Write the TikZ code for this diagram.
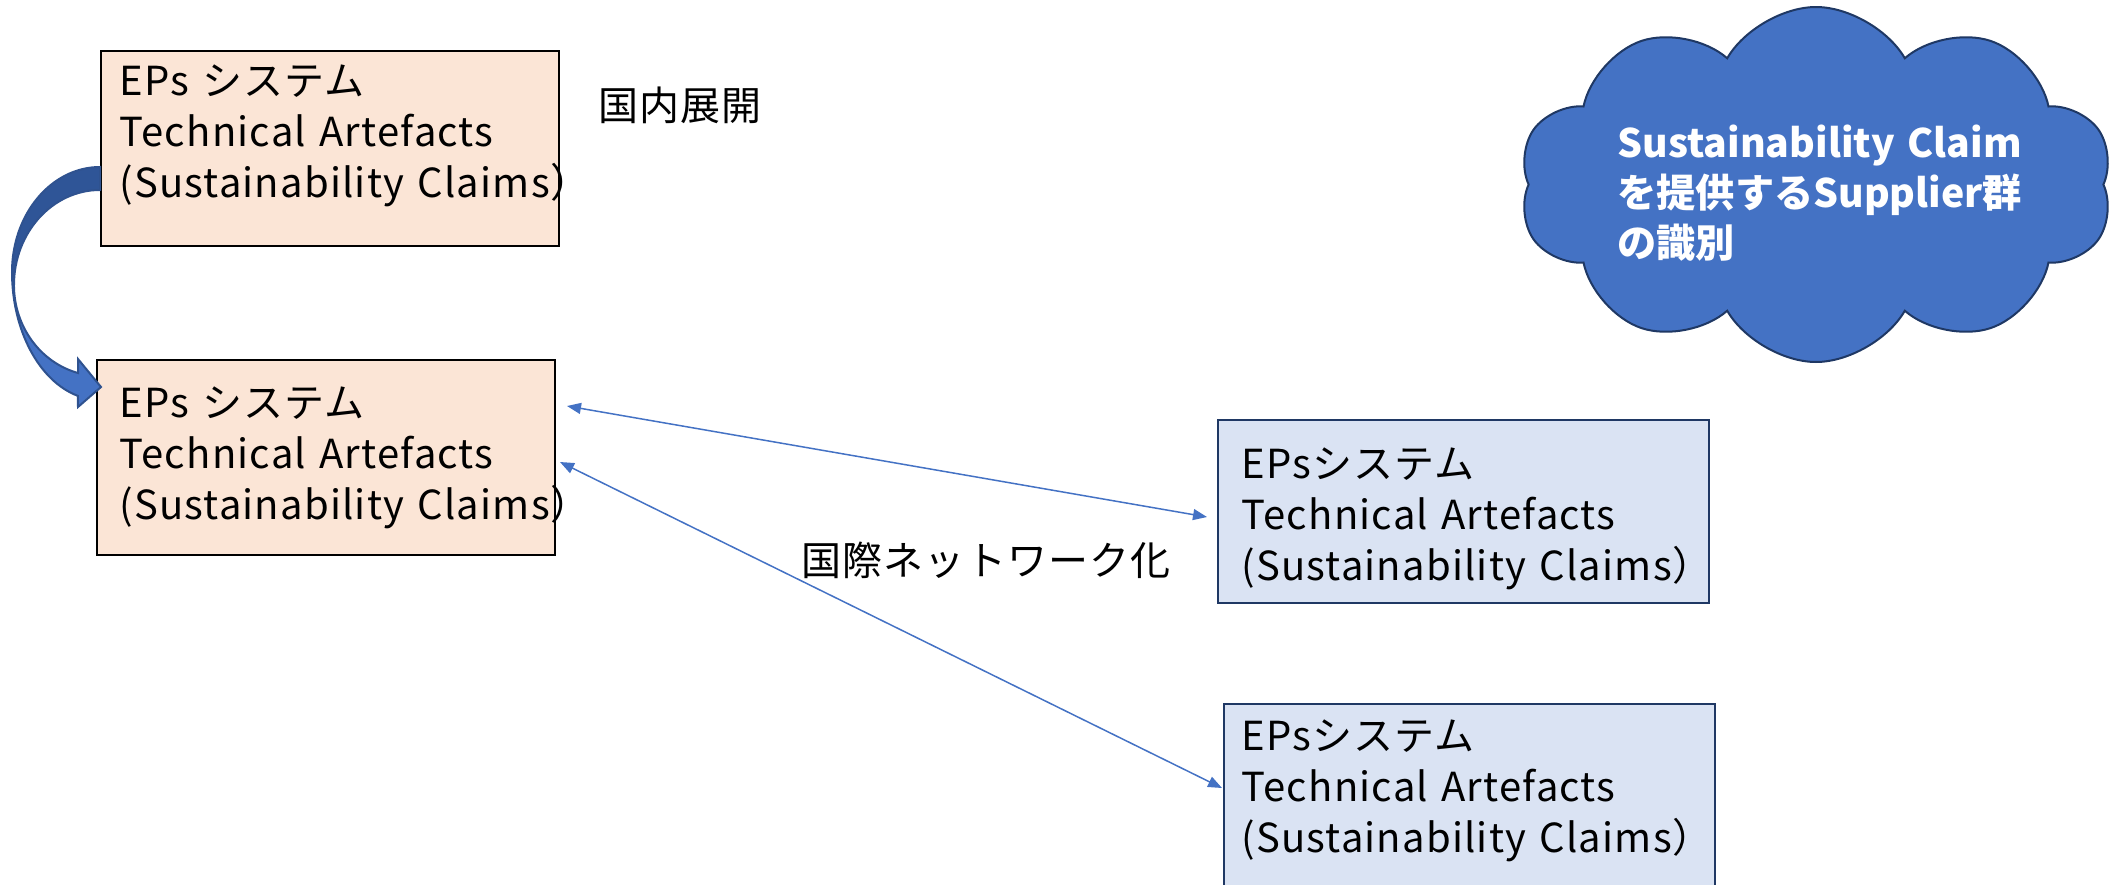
\documentclass[tikz,border=0pt]{standalone}
\usepackage{fontspec}
\setmainfont[LetterSpace=3]{Noto Sans CJK JP}
\newfontfamily\cloudfont{Noto Sans CJK JP}
\usetikzlibrary{arrows.meta,shapes.symbols,positioning}

\definecolor{boxorange}{HTML}{FBE5D6}
\definecolor{boxblue}{HTML}{DAE3F3}
\definecolor{navy}{HTML}{2F528F}
\definecolor{accent}{HTML}{4472C4}
\definecolor{accentdark}{HTML}{2F5597}
\definecolor{cloudline}{HTML}{1F3864}

\tikzset{
    orgbox/.style={draw=black, line width=1pt, fill=boxorange, anchor=north west,
        inner sep=0pt, minimum width=229pt, minimum height=97.5pt},
    netbox/.style={orgbox, draw=cloudline, fill=boxblue,
        minimum width=245.5pt, minimum height=91.5pt},
    eptext/.style={anchor=base west, inner sep=0pt, text width=250pt, align=left,
        font=\fontsize{20}{25.5}\selectfont},
    jptext/.style={anchor=west, inner sep=0pt, font=\fontsize{20}{25.5}\selectfont},
    link/.style={<->, >={Triangle[length=7pt,width=5.5pt]}, draw=accent, line width=0.75pt}
}

\begin{document}
\begin{tikzpicture}[x=0.5pt,y=-0.5pt]
    \useasboundingbox (0,0) rectangle (2120,884);

    % EPs boxes
    \node[orgbox] (A) at (100,50) {};
    \node[orgbox] (B) at (96,359) {};
    \node[netbox] (C) at (1217,419) {};
    \node[netbox] (D) at (1223,703) {};

    \node[eptext] (tA) at ([shift={(19,45)}]A.north west) {EPs システム\\Technical Artefacts\\(Sustainability Claims）};
    \node[eptext] (tB) at ([shift={(23,58)}]B.north west) {EPs システム\\Technical Artefacts\\(Sustainability Claims）};
    \node[eptext] (tC) at ([shift={(24,59)}]C.north west) {EPsシステム\\Technical Artefacts\\(Sustainability Claims）};
    \node[eptext] (tD) at ([shift={(18,47)}]D.north west) {EPsシステム\\Technical Artefacts\\(Sustainability Claims）};

    \node[jptext] (dom) at (598,105) {国内展開};
    \node[jptext] (intl) at (801,560) {国際ネットワーク化};

    % supplier cloud
    \node[cloud, cloud puffs=10, cloud puff arc=120, cloud ignores aspect, draw=cloudline,
        line width=1pt, fill=accent, inner sep=0pt,
        minimum width=297pt, minimum height=177.5pt] (S) at (1816,184.5) {};
    \node[anchor=base west, inner sep=0pt, text width=240pt, align=left, text=white,
        font=\cloudfont\fontsize{19.6}{25}\selectfont\bfseries] (tS) at (1617,157)
        {Sustainability Claim\\を提供するSupplier群\\の識別};

    % curved block arrow A -> B
    \filldraw[fill=accentdark, draw=navy, line width=1pt]
        ([shift={(0,117)}]A.north west) arc[start angle=270, end angle=180, x radius=88, y radius=105]
        -- (14,285) arc[start angle=180, end angle=270, x radius=86, y radius=95] -- cycle;
    \filldraw[fill=accent, draw=navy, line width=1pt]
        (12,272) arc[start angle=180, end angle=104.5, x radius=88, y radius=128]
        -- (78,407) -- ([shift={(5,28)}]B.north west) -- (78,359) -- (78,373)
        arc[start angle=104.8, end angle=180, x radius=86, y radius=91] -- cycle;

    % network links
    \draw[link] ([shift={(11,47)}]B.north east) -- ([shift={(-10,98)}]C.north west);
    \draw[link] ([shift={(4,103)}]B.north east) -- ([shift={(-1,85)}]D.north west);
\end{tikzpicture}
\end{document}
